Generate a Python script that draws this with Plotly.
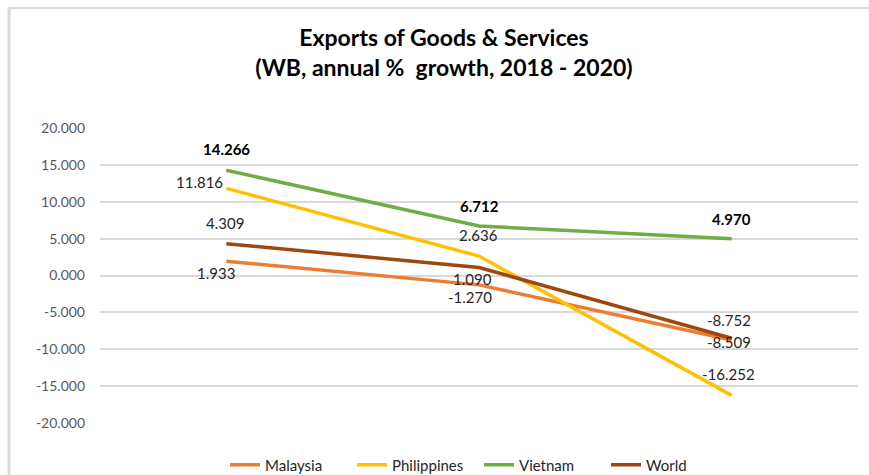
import plotly.graph_objects as go

years = ["2018", "2019", "2020"]
series_names = ["Malaysia", "Philippines", "Vietnam", "World"]
malaysia = [1.933, -1.270, -8.752]
philippines = [11.816, 2.636, -16.252]
vietnam = [14.266, 6.712, 4.970]
world = [4.309, 1.090, -8.509]
tick_vals = [20, 15, 10, 5, 0, -5, -10, -15, -20]
tick_text = ["20.000", "15.000", "10.000", "5.000", "0.000", "-5.000", "-10.000", "-15.000", "-20.000"]

colors = {"Malaysia": "#ED7D31", "Philippines": "#FFC000", "Vietnam": "#70AD47", "World": "#9E480E"}
values = {"Malaysia": malaysia, "Philippines": philippines, "Vietnam": vietnam, "World": world}
# label offsets in pixels (x, y up positive) relative to each point
label_shift = {
    "Malaysia": [(-10, -12), (-9, -12), (-3, 20)],
    "Philippines": [(-27, 6), (-1, 21), (-3, 21)],
    "Vietnam": [(0, 21), (0, 20), (0, 20)],
    "World": [(-1, 21), (-7, -12), (-3, -4)],
}

FONT = "Lato, 'Open Sans', sans-serif"

fig = go.Figure()
annotations = []
for name in series_names:
    vals = values[name]
    bold = name == "Vietnam"
    fig.add_trace(go.Scatter(
        x=years, y=vals, name=name, mode="lines",
        line=dict(color=colors[name], width=3.5),
        cliponaxis=False,
    ))
    for i, v in enumerate(vals):
        dx, dy = label_shift[name][i]
        annotations.append(dict(
            x=i, y=v, xref="x", yref="y",
            text=(f"<b>{v:.3f}</b>" if bold else f"{v:.3f}"),
            showarrow=False, xanchor="center", yanchor="middle",
            xshift=dx, yshift=dy,
            font=dict(family=FONT, size=15, color="#000000" if bold else "#262626"),
        ))

fig.update_layout(
    width=869, height=475,
    margin=dict(l=100, r=11, t=128, b=52, autoexpand=False),
    paper_bgcolor="white", plot_bgcolor="white",
    title=dict(
        text="<b>Exports of Goods & Services<br>(WB, annual %  growth, 2018 - 2020)</b>",
        x=444 / 869, xanchor="center", y=0.903, yanchor="top",
        font=dict(family=FONT, size=23, color="#000000"),
    ),
    xaxis=dict(type="category", showticklabels=False, showgrid=False, zeroline=False,
               showline=False, ticks="", range=[-0.5, 2.5]),
    yaxis=dict(
        range=[-20, 20], tickvals=tick_vals, ticktext=tick_text,
        showgrid=True, gridcolor="#d9d9d9", gridwidth=1.5, zeroline=False, showline=False,
        tickfont=dict(family=FONT, size=14, color="#595959"), ticks="", ticklabelstandoff=14,
    ),
    legend=dict(
        orientation="h", x=0.5, xanchor="center", y=(423 - 465) / 295, yanchor="middle",
        font=dict(family=FONT, size=15, color="#262626"),
        tracegroupgap=0, entrywidth=82, entrywidthmode="pixels",
    ),
    showlegend=True,
    annotations=annotations,
    shapes=[
        dict(type="line", xref="paper", yref="paper", x0=(8 - 100) / 758, x1=(869 - 100) / 758,
             y0=(423 - 8) / 295, y1=(423 - 8) / 295, line=dict(color="#d9d9d9", width=2)),
        dict(type="line", xref="paper", yref="paper", x0=(9 - 100) / 758, x1=(9 - 100) / 758,
             y0=(423 - 8) / 295, y1=-0.25, line=dict(color="#d9d9d9", width=3)),
    ],
)

fig.write_html("out.html")
